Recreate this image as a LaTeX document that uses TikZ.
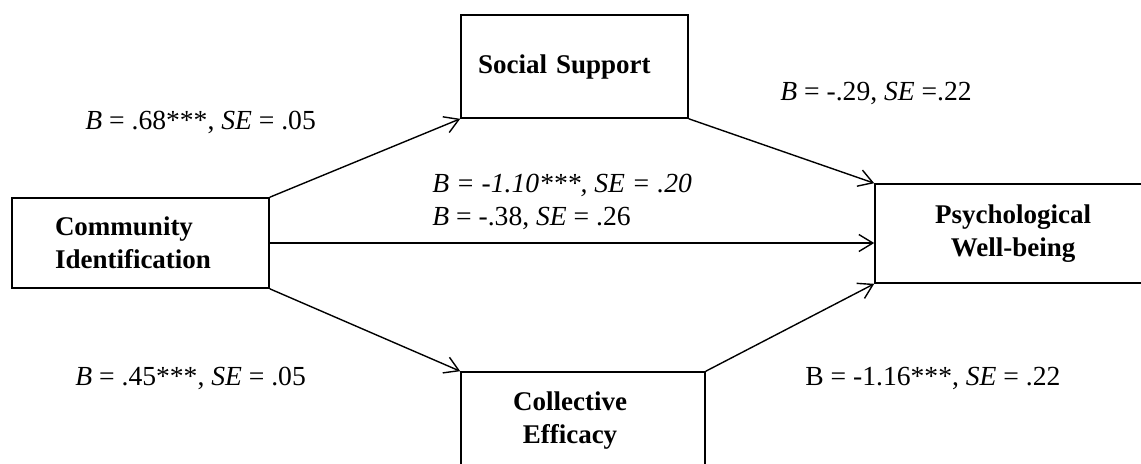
\documentclass[tikz,border=0pt]{standalone}
\usepackage{fontspec}
\setmainfont{Liberation Serif}
\usetikzlibrary{arrows.meta}

\begin{document}
\begin{tikzpicture}
      [x=0.5pt,y=-0.5pt,
       varBox/.style={rectangle,draw=black,line width=0.8pt,inner sep=0pt,font=\fontsize{13.5}{16.5}\selectfont\bfseries},
       coefLabel/.style={anchor=west,inner sep=0pt,align=left,font=\fontsize{13.8}{16.5}\selectfont},
       pathArrow/.style={draw=black,line width=0.7pt,-{Straight Barb[length=7pt,width=8.5pt]}}]
      \clip (0,0) rectangle (1141,463);
      \fill[white] (0,0) rectangle (1141,463);
      \node[varBox,text width=85.5pt,inner xsep=21.5pt,minimum height=45pt,align=left] (commIdent) at (140.5,243) {Community\\Identification};
      \node[varBox,text width=96.5pt,inner xsep=8.5pt,minimum height=51.5pt,align=left] (socialSupport) at (574.5,66.5) {Social Support};
      \node[varBox,minimum width=138pt,minimum height=49.5pt,align=center] (wellBeing) at (1013,233.5) {Psychological\\Well-being};
      \node[varBox,minimum width=122pt,minimum height=48pt] (collEfficacy) at (583,420) {\hspace*{-13pt}\begin{tabular}{@{}c@{}}Collective\\Efficacy\end{tabular}};
      \draw[pathArrow] (commIdent.north east) -- (socialSupport.south west);
      \draw[pathArrow] (socialSupport.south east) -- (wellBeing.north west);
      \draw[pathArrow] (commIdent.east) -- (commIdent.east -| wellBeing.west);
      \draw[pathArrow] (commIdent.south east) -- (collEfficacy.north west);
      \draw[pathArrow] (collEfficacy.north east) -- (wellBeing.south west);
      \node[coefLabel] (coefA) at (85,122) {\textit{B} = .68***, \textit{SE} = .05};
      \node[coefLabel] (coefB) at (780,93) {\textit{B} = -.29, \textit{SE} =.22};
      \node[coefLabel] (coefDirect) at (432,201.5) {\textit{B = -1.10***, SE = .20}\\\textit{B} = -.38, \textit{SE} = .26};
      \node[coefLabel] (coefC) at (75,378) {\textit{B} = .45***, \textit{SE} = .05};
      \node[coefLabel] (coefD) at (805,378) {B = -1.16***, \textit{SE} = .22};
    \end{tikzpicture}
\end{document}
